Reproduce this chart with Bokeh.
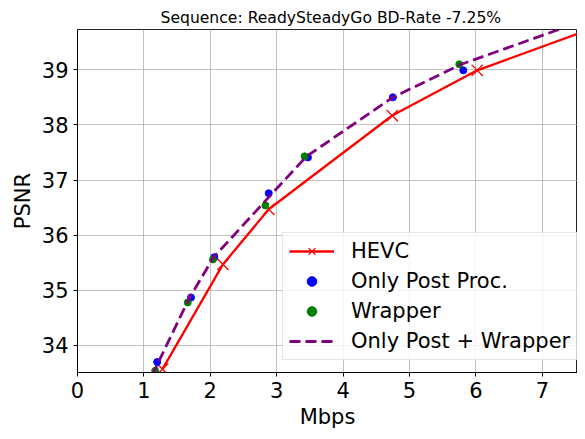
from bokeh.plotting import figure
from bokeh.models import Range1d, FixedTicker, Legend, LegendItem
from bokeh.embed import file_html
from bokeh.resources import INLINE

# Data
hevc_rate = [1.28, 2.19, 2.88, 4.74, 6.02, 8.10]
hevc_psnr = [33.57, 35.47, 36.47, 38.17, 38.99, 39.90]

post_rate = [1.20, 1.71, 2.06, 2.88, 3.47, 4.75, 5.81]
post_psnr = [33.70, 34.87, 35.60, 36.76, 37.41, 38.50, 38.99]

wrap_rate = [1.17, 1.66, 2.04, 2.83, 3.42, 5.75]
wrap_psnr = [33.54, 34.78, 35.56, 36.54, 37.43, 39.10]

both_rate = [1.12, 1.68, 2.05, 2.85, 3.45, 4.75, 5.78, 7.60]
both_psnr = [33.45, 34.85, 35.60, 36.65, 37.43, 38.50, 39.10, 39.88]

x_ticks = [0, 1, 2, 3, 4, 5, 6, 7]
y_ticks = [34, 35, 36, 37, 38, 39]

title_text = "Sequence: ReadySteadyGo  BD-Rate -7.25%"
FONT = "DejaVu Sans"

p = figure(width=577, height=431, output_backend="svg", toolbar_location=None,
           x_range=Range1d(0, 7.53), y_range=Range1d(33.51, 39.73),
           min_border_left=77, min_border_right=0, min_border_top=29, min_border_bottom=57)

p.title.text = title_text
p.title.text_font = FONT
p.title.text_font_size = "15.6px"
p.title.text_font_style = "normal"
p.title.text_color = "black"
p.title.align = "left"
p.title.standoff = 6
p.title.offset = 83

p.outline_line_color = "#222222"
p.outline_line_width = 1

for ax, lab, ticks in ((p.xaxis[0], "Mbps", x_ticks), (p.yaxis[0], "PSNR", y_ticks)):
    ax.ticker = FixedTicker(ticks=ticks)
    ax.axis_label = lab
    ax.axis_label_text_font = FONT
    ax.axis_label_text_font_size = "21px"
    ax.axis_label_text_font_style = "normal"
    ax.axis_label_text_color = "black"
    ax.major_label_text_font = FONT
    ax.major_label_text_font_size = "21px"
    ax.major_label_text_color = "black"
    ax.axis_line_color = "black"
    ax.major_tick_line_color = "black"
    ax.major_tick_in = 0
    ax.major_tick_out = 4
    ax.minor_tick_line_color = None
    ax.major_label_standoff = 5
    ax.axis_label_standoff = 4

p.grid.grid_line_color = "#b0b0b0"
p.grid.grid_line_alpha = 0.8
p.grid.grid_line_width = 1
p.xgrid.ticker = FixedTicker(ticks=x_ticks)
p.ygrid.ticker = FixedTicker(ticks=y_ticks)

r_hevc_line = p.line(hevc_rate, hevc_psnr, line_color="red", line_width=2.3)
r_hevc_mark = p.scatter(hevc_rate, hevc_psnr, marker="x", size=16, line_color="red", line_width=1.3)
r_post = p.scatter(post_rate, post_psnr, marker="circle", size=7, fill_color="blue", line_color="blue")
r_wrap = p.scatter(wrap_rate, wrap_psnr, marker="circle", size=7, fill_color="green", line_color="green")
r_both = p.line(both_rate, both_psnr, line_color="purple", line_width=2.8, line_dash="11 5")

legend = Legend(items=[
    LegendItem(label="HEVC", renderers=[r_hevc_line, r_hevc_mark]),
    LegendItem(label="Only Post Proc.", renderers=[r_post]),
    LegendItem(label="Wrapper", renderers=[r_wrap]),
    LegendItem(label="Only Post + Wrapper", renderers=[r_both]),
], location=(205, 12))
legend.label_text_font = FONT
legend.label_text_font_size = "21px"
legend.label_text_color = "black"
legend.glyph_width = 45
legend.glyph_height = 24
legend.label_height = 24
legend.label_standoff = 17
legend.spacing = 6
legend.padding = 6
legend.margin = 0
legend.border_line_color = "#cccccc"
legend.border_line_width = 1
legend.background_fill_color = "white"
legend.background_fill_alpha = 0.8
p.add_layout(legend, "center")

open("out.html", "w").write(file_html(p, INLINE))
